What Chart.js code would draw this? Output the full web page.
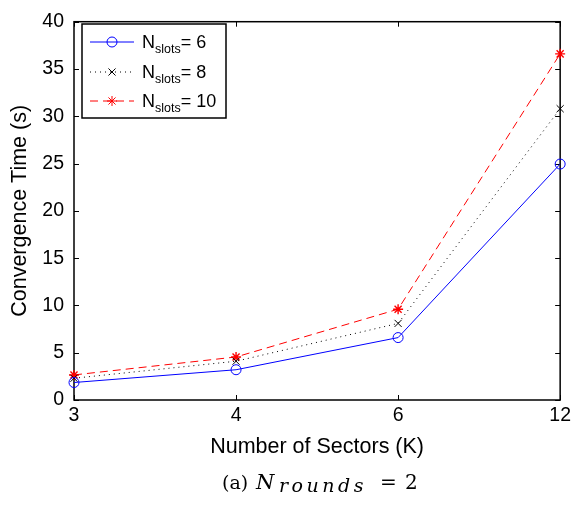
<!DOCTYPE html>
<html>
<head>
<meta charset="utf-8">
<script src="https://cdn.jsdelivr.net/npm/chart.js@4.4.0/dist/chart.umd.min.js"></script>
<style>
  body { margin: 0; background: #fff; }
</style>
</head>
<body>
<canvas id="convChart" width="575" height="506"></canvas>
<script>
// x categories: number of sectors K
const sectors = ['3', '4', '6', '12'];
// convergence time (s) per slot count
const slots6 = [1.85, 3.2, 6.6, 24.95];
const slots8 = [2.3, 4.1, 8.1, 30.8];
const slots10 = [2.65, 4.55, 9.6, 36.6];
const slotNames = ['6', '8', '10'];
const yTicks = [0, 5, 10, 15, 20, 25, 30, 35, 40];

Chart.defaults.font.family = '"Liberation Sans", Arial, sans-serif';
Chart.defaults.color = '#000';

// box around the plot with inward tick marks
const boxTicks = {
    id: 'boxTicks',
    beforeDatasetsDraw(chart) {
        const { ctx, chartArea: a, scales } = chart;
        ctx.save();
        ctx.strokeStyle = '#000';
        ctx.lineWidth = 1.5;
        ctx.strokeRect(a.left, a.top, a.right - a.left, a.bottom - a.top);
        ctx.lineWidth = 1;
        ctx.beginPath();
        yTicks.forEach(v => {
            const y = Math.round(scales.y.getPixelForValue(v)) + 0.5;
            ctx.moveTo(a.left, y); ctx.lineTo(a.left + 5, y);
            ctx.moveTo(a.right, y); ctx.lineTo(a.right - 5, y);
        });
        sectors.forEach((s, i) => {
            const x = Math.round(scales.x.getPixelForValue(i)) + 0.5;
            ctx.moveTo(x, a.bottom); ctx.lineTo(x, a.bottom - 5);
            ctx.moveTo(x, a.top); ctx.lineTo(x, a.top + 5);
        });
        ctx.stroke();
        ctx.restore();
    }
};

// legend with subscripts + caption under the axis
const slotLegend = {
    id: 'slotLegend',
    afterDraw(chart) {
        const { ctx } = chart;
        ctx.save();
        ctx.fillStyle = '#fff';
        ctx.fillRect(82, 24, 144, 94);
        ctx.strokeStyle = '#000';
        ctx.lineWidth = 1.5;
        ctx.strokeRect(82, 24, 144, 94);
        const rows = [42, 72, 101];
        chart.data.datasets.forEach((ds, i) => {
            const y = rows[i];
            ctx.strokeStyle = ds.borderColor;
            ctx.lineWidth = 1;
            ctx.setLineDash(ds.borderDash || []);
            ctx.beginPath();
            ctx.moveTo(90, y);
            ctx.lineTo(134, y);
            ctx.stroke();
            ctx.setLineDash([]);
            ctx.fillStyle = 'rgba(0,0,0,0)';
            Chart.helpers.drawPoint(ctx, {
                pointStyle: ds.pointStyle, radius: ds.pointRadius,
                rotation: 0, borderWidth: 1
            }, 112, y);

            ctx.fillStyle = '#000';
            ctx.textBaseline = 'alphabetic';
            let x = 142;
            ctx.font = '18px "Liberation Sans"';
            ctx.fillText('N', x, y + 6);
            x += ctx.measureText('N').width;
            ctx.font = '12.5px "Liberation Sans"';
            ctx.fillText('slots', x, y + 11);
            x += ctx.measureText('slots').width;
            ctx.font = '18px "Liberation Sans"';
            ctx.fillText('= ' + slotNames[i], x, y + 6);
        });

        // caption: (a) N_rounds = 2
        const serif = '"DejaVu Serif", "Liberation Serif", serif';
        ctx.fillStyle = '#000';
        ctx.font = '19px ' + serif;
        ctx.fillText('(a)', 222, 489);
        ctx.font = 'italic 21px ' + serif;
        ctx.fillText('N', 256, 489);
        ctx.font = 'italic 19px ' + serif;
        let sx = 279;
        for (const ch of 'rounds') {
            ctx.fillText(ch, sx, 492);
            sx += ctx.measureText(ch).width + 3.5;
        }
        ctx.font = '20px ' + serif;
        ctx.fillText('=', 380, 489);
        ctx.fillText('2', 405, 489);
        ctx.restore();
    }
};

const convCanvas = document.getElementById('convChart');
const convChart = new Chart(convCanvas, {
    type: 'line',
    data: {
        labels: sectors,
        datasets: [{
            label: 'N_slots = 6',
            data: slots6,
            borderColor: '#0000ff',
            backgroundColor: 'rgba(0,0,0,0)',
            borderWidth: 1,
            pointStyle: 'circle',
            pointRadius: 5,
            pointBorderWidth: 1,
            pointBorderColor: '#0000ff',
            clip: false
        },
        {
            label: 'N_slots = 8',
            data: slots8,
            borderColor: '#000000',
            backgroundColor: 'rgba(0,0,0,0)',
            borderWidth: 1,
            borderDash: [1, 4],
            pointStyle: 'crossRot',
            pointRadius: 5,
            pointBorderWidth: 1,
            pointBorderColor: '#000000',
            clip: false
        },
        {
            label: 'N_slots = 10',
            data: slots10,
            borderColor: '#ff0000',
            backgroundColor: 'rgba(0,0,0,0)',
            borderWidth: 1,
            borderDash: [8, 5],
            pointStyle: 'star',
            pointRadius: 5,
            pointBorderWidth: 1.4,
            pointBorderColor: '#ff0000',
            clip: false
        }]
    },
    options: {
        responsive: false,
        animation: false,
        layout: { padding: { left: 0, top: 16, right: 11, bottom: 0 } },
        scales: {
            x: {
                offset: false,
                grid: { display: false, drawTicks: false, tickLength: 0 },
                border: { display: false },
                ticks: { font: { size: 19.5 }, padding: 4, maxRotation: 0 },
                title: {
                    display: true,
                    text: 'Number of Sectors (K)',
                    font: { size: 21.5 },
                    padding: { top: 0, bottom: 46 }
                },
                afterFit(scale) { scale.height = 106; }
            },
            y: {
                min: 0,
                max: 40,
                grid: { display: false, drawTicks: false, tickLength: 0 },
                border: { display: false },
                ticks: { stepSize: 5, font: { size: 19.5 }, padding: 10 },
                title: {
                    display: true,
                    text: 'Convergence Time (s)',
                    font: { size: 21.5 },
                    padding: { top: 7, bottom: 0 }
                },
                afterFit(scale) { scale.width = 74; }
            }
        },
        plugins: {
            legend: { display: false },
            tooltip: { enabled: false }
        }
    },
    plugins: [boxTicks, slotLegend]
});
</script>
</body>
</html>
